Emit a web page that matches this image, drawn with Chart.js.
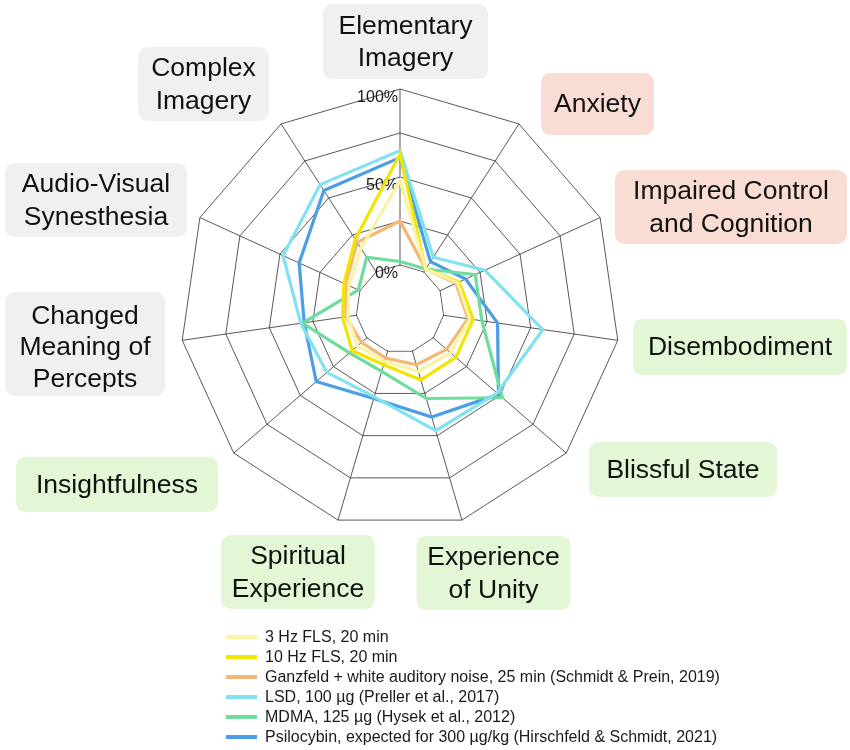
<!DOCTYPE html>
<html><head><meta charset="utf-8">
<script src="https://cdn.jsdelivr.net/npm/chart.js@4.4.1/dist/chart.umd.min.js"></script>
<style>html,body{margin:0;padding:0;background:#fff;}canvas{display:block;}</style>
</head><body>
<canvas id="c" width="850" height="750"></canvas>
<script>
// ---------- data ----------
const categories = ['Elementary Imagery','Anxiety','Impaired Control and Cognition','Disembodiment','Blissful State','Experience of Unity','Spiritual Experience','Insightfulness','Changed Meaning of Percepts','Audio-Visual Synesthesia','Complex Imagery'];
const categoryLines = [['Elementary','Imagery'],['Anxiety'],['Impaired Control','and Cognition'],['Disembodiment'],['Blissful State'],['Experience','of Unity'],['Spiritual','Experience'],['Insightfulness'],['Changed','Meaning of','Percepts'],['Audio-Visual','Synesthesia'],['Complex','Imagery']];
const categoryGroups = ['neutral','negative','negative','positive','positive','positive','positive','positive','neutral','neutral','neutral'];

const seriesNames = ['3 Hz FLS, 20 min','10 Hz FLS, 20 min','Ganzfeld + white auditory noise, 25 min (Schmidt & Prein, 2019)','LSD, 100 µg (Preller et al., 2017)','MDMA, 125 µg (Hysek et al., 2012)','Psilocybin, expected for 300 µg/kg (Hirschfeld & Schmidt, 2021)'];
const fls3Hz     = [48, 2, 11, 15, 13, 12, 6, 7, 5, 7, 16];
const fls10Hz    = [63, 2, 12, 17, 17, 17, 8, 11, 8, 10, 22];
const ganzfeld   = [25, 2, 10, 14, 10, 8, 4, 4, 6, 9, 20];
const lsd        = [65, 10, 28, 57, 48, 47, 27, 30, 32, 48, 59];
const mdma       = [2, 2, 22, 22, 52, 28, 12, 13, 31, 1, 10];
const psilocybin = [61, 7, 16, 31, 49, 39, 28, 38, 30, 38, 55];

const tickValues = [0, 50, 100];
const tickLabels = ['0%', '50%', '100%'];

// ---------- styles / layout ----------
const seriesColors = ['#fbf3a4','#f2e500','#f6b675','#80e2ee','#6ddc9c','#4a9ee6'];
const groupFill = {neutral:'#eff0f2', negative:'#f9ddd4', positive:'#e3f6d5'};
// box centre offset from the radar centre, box size, text shift
const labelBoxes = [
  {dx:5.5, dy:-267.5, w:165, h:75, ty:0},
  {dx:197.5, dy:-205, w:113, h:62, ty:0},
  {dx:331, dy:-102, w:232, h:74, ty:0},
  {dx:340, dy:38, w:214, h:56, ty:0},
  {dx:283, dy:160.5, w:188, h:55, ty:0},
  {dx:93.5, dy:264, w:154, h:74, ty:0},
  {dx:-102, dy:263, w:154, h:74, ty:0},
  {dx:-283, dy:175.5, w:202, h:55, ty:0},
  {dx:-315, dy:35, w:160, h:104, ty:3},
  {dx:-304, dy:-109, w:182, h:74, ty:0},
  {dx:-196.5, dy:-225, w:131, h:74, ty:0}
];
const FONT = '"Liberation Sans", Arial, Helvetica, sans-serif';

const seriesData = [fls3Hz, fls10Hz, ganzfeld, lsd, mdma, psilocybin];

function roundRect(ctx, x, y, w, h, r) {
  ctx.beginPath();
  ctx.moveTo(x + r, y);
  ctx.lineTo(x + w - r, y);
  ctx.quadraticCurveTo(x + w, y, x + w, y + r);
  ctx.lineTo(x + w, y + h - r);
  ctx.quadraticCurveTo(x + w, y + h, x + w - r, y + h);
  ctx.lineTo(x + r, y + h);
  ctx.quadraticCurveTo(x, y + h, x, y + h - r);
  ctx.lineTo(x, y + r);
  ctx.quadraticCurveTo(x, y, x + r, y);
  ctx.closePath();
}

const decor = {
  id: 'decor',
  beforeDatasetsDraw(chart) {
    const s = chart.scales.r, ctx = chart.ctx;
    const d = s.getDistanceFromCenterForValue(0) - 0.7;
    ctx.save();
    ctx.beginPath();
    for (let i = 0; i < categories.length; i++) {
      const p = s.getPointPosition(i, d);
      if (i) ctx.lineTo(p.x, p.y); else ctx.moveTo(p.x, p.y);
    }
    ctx.closePath();
    ctx.fillStyle = '#ffffff';
    ctx.fill();
    ctx.font = '16px ' + FONT;
    ctx.fillStyle = '#1a1a1a';
    ctx.textAlign = 'right';
    ctx.textBaseline = 'middle';
    tickValues.forEach((v, j) => {
      const r = s.getDistanceFromCenterForValue(v);
      ctx.fillText(tickLabels[j], s.xCenter - 2, s.yCenter - r + 8.5);
    });
    ctx.restore();
  },
  afterDraw(chart) {
    const s = chart.scales.r, ctx = chart.ctx;
    ctx.save();
    // category label boxes
    ctx.font = '26.5px ' + FONT;
    ctx.textAlign = 'center';
    ctx.textBaseline = 'middle';
    chart.data.labels.forEach((lab, i) => {
      const b = labelBoxes[i];
      const cx = s.xCenter + b.dx, cy = s.yCenter + b.dy;
      ctx.fillStyle = groupFill[categoryGroups[i]];
      roundRect(ctx, cx - b.w / 2, cy - b.h / 2, b.w, b.h, 11);
      ctx.fill();
      ctx.fillStyle = '#111111';
      const lines = categoryLines[i];
      const lh = lines.length > 2 ? 31.5 : 32.5;
      lines.forEach((t, k) => {
        ctx.fillText(t, cx, cy + b.ty + (k - (lines.length - 1) / 2) * lh + 1);
      });
    });
    // legend
    ctx.font = '16px ' + FONT;
    ctx.textAlign = 'left';
    ctx.textBaseline = 'middle';
    const lx = 226, ly = 637, step = 20;
    chart.data.datasets.forEach((ds, i) => {
      const y = ly + i * step;
      ctx.strokeStyle = ds.borderColor;
      ctx.lineWidth = 4;
      ctx.beginPath();
      ctx.moveTo(lx, y);
      ctx.lineTo(lx + 31, y);
      ctx.stroke();
      ctx.fillStyle = '#1a1a1a';
      ctx.fillText(ds.label, lx + 39, y + 0.5);
    });
    ctx.restore();
  }
};

new Chart(document.getElementById('c'), {
  type: 'radar',
  data: {
    labels: categories,
    datasets: seriesNames.map((n, i) => ({
      label: n,
      data: seriesData[i],
      borderColor: seriesColors[i],
      backgroundColor: 'rgba(0,0,0,0)',
      fill: false,
      borderWidth: 3.2,
      pointRadius: 0,
      pointHoverRadius: 0,
      tension: 0,
      borderJoinStyle: 'miter'
    }))
  },
  options: {
    responsive: false,
    animation: false,
    devicePixelRatio: 1,
    layout: { padding: { left: 180, right: 230, top: 89, bottom: 221 } },
    plugins: { legend: { display: false }, tooltip: { enabled: false } },
    scales: {
      r: {
        min: -25,
        max: 100,
        ticks: { display: false, stepSize: 25 },
        pointLabels: { display: false },
        grid: { color: 'rgba(60,60,60,0.85)', lineWidth: 1 },
        angleLines: { color: 'rgba(60,60,60,0.85)', lineWidth: 1 }
      }
    }
  },
  plugins: [decor]
});
</script>
</body></html>
